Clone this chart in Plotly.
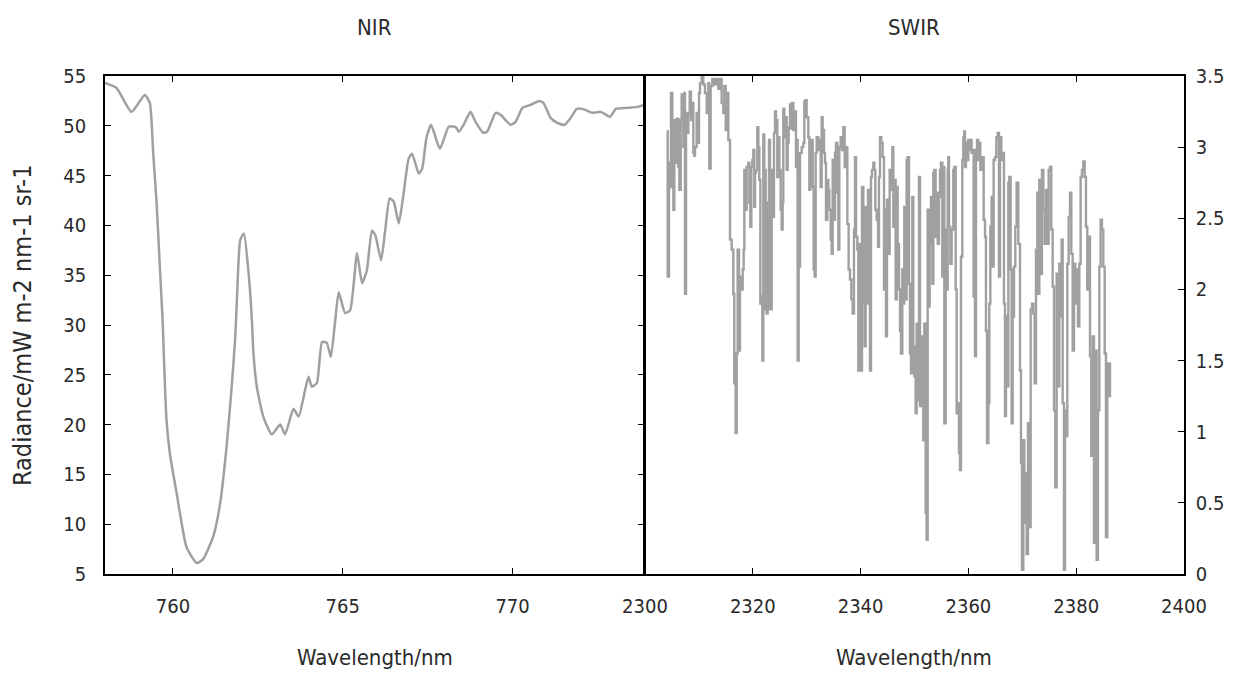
import plotly.graph_objects as go

# ---------------- data ----------------
nir_wavelength = [758.00, 758.34, 758.78, 759.17, 759.32, 759.42, 759.52, 759.62, 759.70, 759.73,
                  759.81, 759.91, 760.11, 760.40, 760.70, 760.89, 761.19, 761.39, 761.58, 761.73,
                  761.83, 761.88, 761.98, 762.09, 762.22, 762.32, 762.37, 762.47, 762.66, 762.91,
                  763.16, 763.30, 763.55, 763.70, 763.99, 764.09, 764.24, 764.39, 764.53, 764.65,
                  764.78, 764.88, 765.07, 765.22, 765.42, 765.57, 765.71, 765.86, 765.96, 766.13,
                  766.25, 766.38, 766.50, 766.65, 766.78, 766.94, 767.04, 767.24, 767.34, 767.46,
                  767.60, 767.86, 768.12, 768.32, 768.42, 768.56, 768.76, 768.91, 769.14, 769.25,
                  769.50, 769.65, 769.94, 770.09, 770.29, 770.53, 770.78, 770.91, 771.12, 771.32,
                  771.53, 771.71, 771.89, 772.06, 772.35, 772.60, 772.87, 773.04, 773.38, 773.68,
                  773.87]
nir_radiance = [54.3, 53.8, 51.4, 53.1, 52.3, 47.2, 42.2, 35.5, 30.2, 27.2,
                20.5, 17.1, 13.1, 7.7, 6.1, 6.5, 8.8, 12.1, 17.8, 23.8,
                28.5, 32.2, 38.5, 39.2, 35.5, 30.8, 27.2, 23.8, 20.8, 19.0,
                20.0, 19.0, 21.6, 20.8, 24.8, 23.8, 24.2, 28.3, 28.2, 26.8,
                30.5, 33.3, 31.2, 31.5, 37.2, 34.2, 35.5, 39.5, 39.0, 36.5,
                39.5, 42.7, 42.4, 40.2, 42.9, 46.7, 47.2, 45.2, 45.7, 48.7,
                50.1, 47.7, 49.9, 49.9, 49.4, 50.1, 51.4, 50.4, 49.3, 49.4,
                51.3, 51.1, 50.1, 50.4, 51.8, 52.1, 52.5, 52.3, 50.8, 50.3,
                50.1, 50.8, 51.7, 51.7, 51.3, 51.4, 50.9, 51.7, 51.8, 51.9,
                52.1]

swir_wavelength = [
    2304.02, 2304.21, 2304.45, 2304.64, 2304.82, 2305.07, 2305.26, 2305.44, 2305.69, 2305.87,
    2306.18, 2306.37, 2306.62, 2306.80, 2307.11, 2307.30, 2307.42, 2307.61, 2307.85, 2308.04,
    2308.29, 2308.53, 2308.78, 2308.97, 2309.15, 2309.28, 2309.58, 2309.77, 2310.02, 2310.20,
    2310.51, 2310.82, 2311.13, 2311.44, 2311.75, 2311.93, 2312.18, 2312.49, 2312.86, 2313.30,
    2313.60, 2313.91, 2314.22, 2314.53, 2314.72, 2314.97, 2315.15, 2315.46, 2315.77, 2316.08,
    2316.39, 2316.57, 2316.82, 2317.01, 2317.19, 2317.44, 2317.62, 2317.93, 2318.12, 2318.30,
    2318.43, 2318.68, 2318.86, 2319.17, 2319.36, 2319.54, 2319.73, 2319.91, 2320.10, 2320.28,
    2320.41, 2320.59, 2320.84, 2321.03, 2321.21, 2321.40, 2321.64, 2321.77, 2321.95, 2322.14,
    2322.39, 2322.57, 2322.76, 2323.00,
    2323.19, 2323.50, 2323.68, 2323.93, 2324.12, 2324.30, 2324.55, 2324.74, 2324.92, 2325.17,
    2325.35, 2325.54, 2325.66, 2325.85, 2326.03, 2326.28, 2326.47, 2326.65, 2326.90, 2327.09,
    2327.27, 2327.52, 2327.77, 2328.01, 2328.14, 2328.32, 2328.51, 2328.76, 2329.07, 2329.37,
    2329.56, 2329.75, 2329.99, 2330.30, 2330.49, 2330.67, 2330.86, 2331.11, 2331.29, 2331.48,
    2331.66, 2331.85, 2332.16, 2332.34, 2332.59, 2332.78, 2332.96, 2333.21, 2333.39, 2333.58,
    2333.83, 2334.01, 2334.20, 2334.45, 2334.63, 2334.82, 2335.06, 2335.25, 2335.43, 2335.68,
    2335.87, 2336.05, 2336.30, 2336.55, 2336.80, 2337.04, 2337.29, 2337.54, 2337.78, 2338.03,
    2338.28, 2338.53, 2338.77, 2338.96, 2339.15, 2339.39, 2339.58, 2339.76, 2340.01, 2340.26,
    2340.51, 2340.75, 2340.94, 2341.12, 2341.37, 2341.56, 2341.74, 2341.93, 2342.11, 2342.36,
    2342.55, 2342.73, 2342.98, 2343.23, 2343.41, 2343.60, 2343.84, 2344.09, 2344.34,
    2344.53, 2344.71, 2344.90, 2345.14, 2345.39, 2345.64, 2345.89, 2346.07, 2346.26, 2346.50,
    2346.69, 2346.87, 2347.12, 2347.31, 2347.49, 2347.74, 2347.93, 2348.11, 2348.36, 2348.54,
    2348.73, 2348.98, 2349.16, 2349.35, 2349.60, 2349.78, 2349.97, 2350.21, 2350.40, 2350.59,
    2350.83, 2351.02, 2351.20, 2351.45, 2351.64, 2351.82, 2352.07, 2352.25, 2352.44, 2352.63,
    2352.81, 2353.06, 2353.31, 2353.49, 2353.68, 2353.92, 2354.11, 2354.30, 2354.54, 2354.73,
    2354.91, 2355.16, 2355.35, 2355.53, 2355.78, 2355.97, 2356.15, 2356.27, 2356.40, 2356.65,
    2356.89, 2357.20, 2357.39, 2357.64, 2357.82, 2358.01, 2358.25, 2358.44, 2358.62, 2358.87,
    2359.06, 2359.24, 2359.37, 2359.55, 2359.74, 2359.98, 2360.17, 2360.36, 2360.60, 2360.79,
    2360.97, 2361.22, 2361.41, 2361.59, 2361.84, 2362.03, 2362.21, 2362.46, 2362.64, 2362.83,
    2363.08, 2363.26, 2363.45, 2363.70, 2363.88, 2364.07, 2364.31, 2364.50, 2364.68, 2364.93,
    2365.18, 2365.43, 2365.67,
    2365.86, 2366.11, 2366.35, 2366.60, 2366.79, 2366.97, 2367.22, 2367.41, 2367.59, 2367.84,
    2368.02, 2368.21, 2368.46, 2368.70, 2368.95, 2369.26, 2369.57, 2369.76, 2369.94, 2370.19,
    2370.37, 2370.56, 2370.81, 2371.05, 2371.30, 2371.55, 2371.80, 2372.04, 2372.29, 2372.54,
    2372.79, 2372.97, 2373.16, 2373.40, 2373.65, 2373.90, 2374.15, 2374.39, 2374.64, 2374.89,
    2375.14, 2375.38, 2375.63, 2375.88, 2376.13, 2376.37, 2376.62, 2376.87, 2377.11, 2377.30,
    2377.49, 2377.73, 2377.92, 2378.10, 2378.35, 2378.60, 2378.85, 2379.09, 2379.34, 2379.59,
    2379.84, 2380.08, 2380.33, 2380.58, 2380.82, 2381.07, 2381.32, 2381.57, 2381.81, 2382.06,
    2382.31, 2382.56, 2382.80, 2383.05, 2383.30, 2383.55, 2383.79, 2384.04, 2384.29, 2384.53,
    2384.78, 2385.03, 2385.28, 2385.52, 2385.77, 2386.02, 2386.27, 2386.45]
swir_radiance = [
    3.11, 2.09, 2.89, 2.72, 3.38, 2.77, 2.56, 3.19, 2.89, 3.20,
    2.86, 2.70, 3.19, 3.37, 3.00, 3.38, 1.97, 3.24, 3.10, 3.24,
    3.39, 3.19, 3.31, 2.96, 2.94, 3.00, 3.24, 3.03, 3.38, 3.45,
    3.50, 3.44, 3.38, 3.24, 3.45, 2.85, 3.43, 3.48, 3.44, 3.48,
    3.41, 3.48, 3.31, 3.24, 3.43, 3.12, 3.38, 3.05, 2.35, 2.28,
    1.97, 1.34, 0.99, 1.55, 2.28, 1.57, 2.09, 2.00, 2.14, 2.28,
    2.84, 2.56, 2.86, 2.89, 2.61, 2.44, 2.86, 2.91, 2.98, 2.58,
    2.82, 2.84, 3.14, 3.00, 2.77, 1.90, 1.95, 1.50, 3.09, 2.84,
    1.86, 1.83, 2.61, 3.05,
    1.86, 2.84, 2.51, 3.10, 3.25, 3.19, 2.79, 3.07, 2.84, 2.56,
    2.42, 2.61, 3.27, 3.07, 3.21, 2.84, 3.03, 3.14, 3.30, 3.13,
    3.31, 3.12, 3.25, 2.86, 3.05, 1.50, 2.16, 2.96, 3.00, 3.03,
    3.32, 3.33, 3.21, 3.07, 2.70, 2.96, 3.05, 2.72, 2.14, 2.09,
    2.96, 3.07, 2.98, 3.05, 2.72, 3.21, 3.12, 2.96, 2.89, 2.49,
    2.77, 2.70, 2.56, 2.35, 2.25, 2.91, 2.49, 2.96, 3.03, 2.68,
    2.28, 3.00, 3.07, 2.98, 3.14, 2.86, 3.00, 2.46, 2.14, 2.07,
    1.93, 1.83, 2.42, 2.93, 2.37, 2.28, 1.43, 2.32, 1.43, 2.72,
    1.90, 1.60, 2.58, 1.90, 2.70, 2.23, 1.43, 2.79, 2.84, 2.89,
    2.84, 2.56, 2.49, 2.30, 2.79, 3.07, 3.03, 2.93, 2.00,
    2.56, 1.67, 2.63, 2.25, 2.84, 2.70, 3.00, 2.44, 2.77, 1.93,
    2.72, 2.32, 2.00, 1.71, 1.55, 2.14, 1.90, 2.58, 1.93, 2.91,
    2.93, 2.04, 1.55, 1.41, 2.65, 1.60, 1.39, 1.13, 1.76, 1.22,
    2.79, 1.18, 1.62, 1.67, 0.94, 1.76, 0.43, 0.24, 2.56, 1.88,
    2.32, 2.65, 2.04, 2.82, 2.84, 2.37, 2.68, 2.32, 2.65, 2.84,
    2.89, 2.09, 2.86, 1.06, 2.42, 2.00, 2.84, 2.93, 2.44, 2.18,
    2.42, 2.84, 2.86, 2.00, 1.13, 1.20, 0.85, 0.73, 2.23, 2.91,
    3.07, 3.11, 2.86, 3.03, 2.91, 3.05, 2.98, 3.05, 2.96, 2.98,
    1.95, 1.53, 2.98, 3.05, 2.91, 3.03, 2.84, 2.91, 2.93, 2.49,
    2.37, 1.71, 0.92, 1.20, 1.90, 2.44, 2.65, 2.16, 2.91, 2.93,
    3.07, 3.10, 2.09,
    3.07, 2.91, 2.96, 1.90, 1.11, 1.81, 1.32, 2.75, 2.79, 2.14,
    1.06, 1.81, 2.16, 2.44, 2.75, 2.32, 1.43, 0.78, 0.03, 0.94,
    0.36, 0.71, 0.14, 1.06, 0.33, 1.86, 1.90, 1.83, 1.34, 2.28,
    2.68, 1.97, 2.77, 2.11, 2.84, 2.56, 2.32, 2.70, 2.32, 2.84,
    2.86, 2.42, 2.02, 1.15, 0.61, 2.11, 1.32, 2.18, 1.81, 2.35,
    1.20, 0.03, 1.15, 0.97, 2.18, 2.51, 2.68, 2.25, 1.57, 2.18,
    1.90, 2.14, 1.74, 2.18, 2.79, 2.84, 2.90, 2.79, 2.44, 2.00,
    2.37, 1.53, 0.83, 1.67, 0.22, 1.57, 0.10, 1.15, 2.16, 2.49,
    2.42, 2.16, 1.55, 0.26, 1.48, 1.25, 1.48, 1.48]

nir_xticks = [760, 765, 770]
swir_xticks = [2300, 2320, 2340, 2360, 2380, 2400]

# ---------------- figure ----------------
W, H = 1234, 675
# page body has an 8px margin, so the plot box is shifted accordingly
ml, mr, mt, mb = 97, 58, 68, 109
pw = W - ml - mr
split = 539

LINE = "#a0a0a0"
FONT = "DejaVu Sans Condensed, Liberation Sans Narrow, Liberation Sans, sans-serif"
TXT = "#2a2a2a"

fig = go.Figure()
fig.add_trace(go.Scatter(x=nir_wavelength, y=nir_radiance, mode="lines",
                         line=dict(color=LINE, width=2.5, shape="spline", smoothing=0.5),
                         xaxis="x", yaxis="y", showlegend=False))
fig.add_trace(go.Scatter(x=swir_wavelength, y=swir_radiance, mode="lines",
                         line=dict(color=LINE, width=2.4, shape="hv"), xaxis="x2", yaxis="y2",
                         showlegend=False))

common_axis = dict(showgrid=False, zeroline=False, showline=True, linecolor="black",
                   linewidth=1.5, ticks="inside", ticklen=6, tickcolor="black",
                   tickfont=dict(family=FONT, size=20, color=TXT))

fig.update_layout(
    width=W, height=H,
    margin=dict(l=ml, r=mr, t=mt, b=mb),
    paper_bgcolor="white", plot_bgcolor="white",
    font=dict(family=FONT, size=20, color=TXT),
    xaxis=dict(domain=[0, split / pw], range=[758, 773.87], tickvals=nir_xticks,
               mirror="ticks", anchor="y", ticklabelstandoff=13, **common_axis),
    yaxis=dict(range=[5, 55], dtick=5, tick0=5, mirror="ticks", anchor="x",
               ticklabelstandoff=13, **common_axis),
    xaxis2=dict(domain=[(split + 1) / pw, 1], range=[2300, 2400], tickvals=swir_xticks,
                mirror="ticks", anchor="y2", ticklabelstandoff=13, **common_axis),
    yaxis2=dict(range=[0, 3.5], dtick=0.5, tick0=0, side="right", mirror=True,
                anchor="x2", ticklabelstandoff=6, **common_axis),
)

ann_font = dict(family=FONT, size=22, color=TXT)
nir_c = (split / 2) / pw
swir_c = (split + (pw - split) / 2) / pw
fig.add_annotation(text="NIR", xref="paper", yref="paper", x=nir_c, xanchor="center", y=1,
                   yshift=63, showarrow=False, font=ann_font)
fig.add_annotation(text="SWIR", xref="paper", yref="paper", x=swir_c, xanchor="center",
                   y=1, yshift=63, showarrow=False, font=ann_font)
fig.add_annotation(text="Wavelength/nm", xref="paper", yref="paper", x=nir_c, xanchor="center",
                   y=0, yshift=-98, showarrow=False, font=ann_font)
fig.add_annotation(text="Wavelength/nm", xref="paper", yref="paper", x=swir_c,
                   xanchor="center", y=0, yshift=-98, showarrow=False, font=ann_font)
fig.add_annotation(text="Radiance/mW m-2 nm-1 sr-1", xref="paper", yref="paper",
                   x=0, xanchor="center", xshift=-83, y=0.5, textangle=-90, showarrow=False,
                   font=dict(family=FONT, size=25, color=TXT))

fig.write_html("out.html")
